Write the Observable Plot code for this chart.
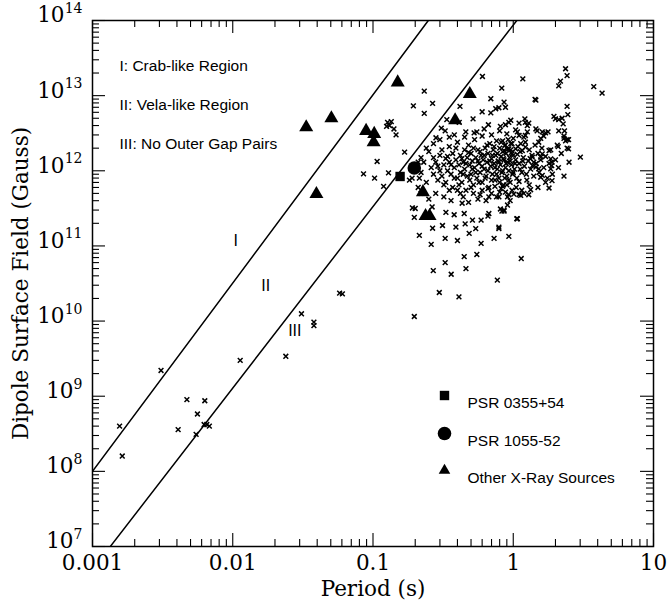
<!DOCTYPE html>
<html><head><meta charset="utf-8">
<script src="https://cdn.jsdelivr.net/npm/d3@7"></script>
<script src="https://cdn.jsdelivr.net/npm/@observablehq/plot@0.6"></script>
<style>html,body{margin:0;padding:0;background:#fff}</style>
</head><body><div id="chart"></div>
<script>
// ---------- data ----------
const xTickValues = [0.001, 0.01, 0.1, 1, 10];
const xTickLabels = ["0.001", "0.01", "0.1", "1", "10"];
const yTickExponents = [7, 8, 9, 10, 11, 12, 13, 14];

// boundary lines (P in s, B in G)
const boundaryI = [[0.001, 1e8], [0.248, 1e14]];
const boundaryII = [[0.00134, 1e7], [1.06, 1e14]];

const psr0355 = [[0.156, 8.4e11]];
const psr1055 = [[0.197, 1.09e12]];
const xraySources = [
  [0.0334, 3.8e12], [0.0505, 5.0e12], [0.0893, 3.4e12], [0.102, 3.1e12], [0.101, 2.4e12],
  [0.150, 1.5e13], [0.0395, 4.9e11], [0.49, 1.05e13], [0.385, 4.7e12], [0.227, 5.2e11],
  [0.237, 2.5e11], [0.253, 2.5e11]
];

const pulsarsSparse = [
  [0.00156, 4.0e8], [0.00163, 1.6e8], [0.00308, 2.2e9], [0.00408, 3.6e8], [0.00471, 9.0e8],
  [0.00560, 5.8e8], [0.00548, 3.1e8], [0.00625, 4.2e8], [0.00653, 4.2e8], [0.00681, 4.0e8],
  [0.00632, 8.7e8], [0.0113, 3.0e9], [0.0239, 3.4e9], [0.0309, 1.25e10], [0.0379, 9.7e9],
  [0.0379, 8.7e9], [0.0578, 2.35e10], [0.0605, 2.3e10],
  [0.107, 1.33e12], [0.0856, 9.1e11], [0.1026, 8.0e11], [0.129, 9.4e11], [0.119, 6.2e11],
  [0.168, 1.77e12], [0.127, 4.4e12], [0.135, 4.5e12], [0.125, 3.9e12], [0.131, 4.0e12],
  [0.141, 3.6e12], [0.146, 3.0e12], [0.232, 1.15e13], [0.194, 7.3e12], [0.266, 7.9e12],
  [0.232, 5.8e12], [0.182, 7.5e11], [0.214, 8.0e11]
];
const pulsarsUpper = [
  [0.603, 1.8e13], [1.17, 1.67e13], [0.828, 1.26e13], [0.692, 9.1e12], [0.86, 8.2e12],
  [0.60, 6.1e12], [0.692, 5.9e12], [0.75, 6.7e12], [0.79, 6.9e12], [0.88, 7.0e12],
  [0.336, 4.8e12], [0.417, 7.2e12], [0.517, 4.9e12], [0.412, 4.4e12], [0.307, 3.7e12],
  [0.327, 3.4e12], [0.281, 2.75e12], [0.459, 3.3e12], [0.526, 3.2e12], [0.665, 4.1e12],
  [2.36, 2.28e13], [2.42, 1.85e13], [2.17, 1.56e13], [2.11, 1.35e13], [3.75, 1.32e13],
  [4.30, 1.08e13], [1.43, 8.9e12], [1.45, 8.7e12], [2.42, 7.2e12], [2.45, 5.6e12],
  [1.95, 5.3e12], [2.0, 4.9e12], [2.11, 4.8e12], [2.23, 5.0e12], [2.27, 4.2e12],
  [0.96, 4.7e12], [0.93, 4.4e12], [0.88, 4.1e12], [0.81, 3.9e12], [1.10, 4.3e12],
  [1.22, 4.4e12], [1.26, 4.0e12], [1.29, 4.3e12], [1.21, 4.9e12], [2.11, 3.4e12],
  [2.32, 3.4e12], [2.30, 2.9e12], [1.45, 3.6e12], [1.48, 3.4e12], [1.04, 3.5e12],
  [1.07, 3.3e12], [1.26, 3.3e12], [1.22, 2.95e12], [1.19, 2.8e12], [1.10, 2.95e12],
  [1.61, 3.3e12], [1.70, 3.2e12], [1.77, 3.3e12], [1.65, 2.9e12], [1.57, 2.7e12],
  [1.52, 2.4e12], [2.30, 2.7e12], [2.42, 2.6e12], [2.48, 2.6e12], [2.36, 2.5e12],
  [2.06, 2.2e12], [2.09, 2.1e12], [2.42, 2.0e12], [2.48, 1.96e12], [1.80, 1.86e12],
  [1.61, 1.68e12], [1.57, 1.52e12], [3.01, 1.52e12], [1.85, 1.44e12], [1.89, 1.30e12],
  [1.88, 1.17e12], [1.85, 1.06e12], [1.89, 7.4e11], [1.80, 5.9e11], [1.33, 5.6e11],
  [1.29, 4.8e11], [1.13, 4.7e11], [1.01, 4.9e11], [0.91, 4.5e11], [0.93, 4.8e11],
  [0.84, 6.2e11], [0.86, 3.0e11], [0.83, 2.9e11], [1.07, 2.3e11], [0.79, 1.7e11],
  [0.84, 2.5e12], [0.88, 2.2e12], [0.96, 2.3e12], [0.93, 1.96e12], [0.86, 1.86e12],
  [0.98, 1.68e12], [1.04, 1.96e12], [1.13, 2.3e12], [1.16, 1.86e12], [1.22, 2.06e12],
  [1.37, 1.52e12], [1.40, 1.30e12], [1.45, 1.12e12], [1.37, 1.17e12], [1.52, 1.06e12],
  [1.61, 8.7e11], [1.57, 8.2e11]
];
const pulsarsLower = [
  [0.200, 3.15e11], [0.197, 2.4e11], [0.264, 3.3e11], [0.331, 2.8e11], [0.379, 2.6e11],
  [0.447, 2.7e11], [0.512, 2.2e11], [0.454, 1.97e11], [0.390, 1.78e11], [0.313, 1.87e11],
  [0.266, 1.72e11], [0.191, 3.2e11], [0.432, 3.7e11], [0.67, 4.5e11], [0.79, 4.5e11],
  [0.91, 3.5e11], [1.10, 4.8e11], [1.19, 5.0e11], [0.81, 3.1e11], [0.86, 2.9e11],
  [1.06, 2.3e11], [0.59, 2.2e11], [0.79, 1.78e11], [0.54, 1.7e11], [0.67, 2.7e11],
  [0.66, 2.5e11],
  [0.214, 1.38e11], [0.26, 1.05e11], [0.327, 1.26e11], [0.40, 1.18e11], [0.485, 1.47e11],
  [0.59, 1.08e11], [0.73, 1.26e11], [0.93, 1.34e11], [0.447, 7.2e10], [0.55, 7.7e10],
  [0.327, 6.0e10], [0.269, 4.7e10], [0.361, 4.2e10], [0.46, 5.0e10], [0.77, 3.5e10],
  [1.14, 6.8e10], [0.297, 2.4e10], [0.41, 2.1e10], [0.197, 1.15e10]
];
const pulsarsCore = [
  [0.26, 1.1e12], [0.27, 9e11], [0.28, 1.3e12], [0.29, 7.5e11], [0.30, 1.6e12], [0.30, 1.0e12],
  [0.31, 8.5e11], [0.32, 1.2e12], [0.33, 1.45e12], [0.33, 7e11], [0.34, 1.0e12], [0.35, 2.1e12],
  [0.35, 1.3e12], [0.36, 9e11], [0.37, 1.7e12], [0.37, 6e11], [0.38, 1.1e12], [0.39, 1.4e12],
  [0.40, 8e11], [0.40, 2.4e12], [0.41, 1.2e12], [0.42, 1.6e12], [0.42, 9.5e11], [0.43, 7e11],
  [0.44, 1.3e12], [0.45, 1.9e12], [0.45, 1.05e12], [0.46, 5.5e11], [0.47, 1.5e12], [0.47, 8.5e11],
  [0.48, 2.2e12], [0.49, 1.2e12], [0.50, 9e11], [0.50, 1.7e12], [0.51, 1.35e12], [0.52, 6.5e11],
  [0.53, 2.6e12], [0.53, 1.1e12], [0.54, 1.5e12], [0.55, 8e11], [0.56, 1.9e12], [0.57, 1.25e12],
  [0.58, 9.5e11], [0.59, 1.6e12], [0.60, 2.9e12], [0.60, 7e11], [0.61, 1.4e12], [0.62, 1.05e12],
  [0.63, 2.0e12], [0.64, 8.5e11], [0.65, 1.3e12], [0.66, 1.7e12], [0.67, 6e11], [0.68, 2.3e12],
  [0.69, 1.15e12], [0.70, 1.45e12], [0.71, 9e11], [0.72, 1.9e12], [0.73, 1.25e12], [0.74, 7.5e11],
  [0.75, 1.6e12], [0.76, 2.5e12], [0.77, 1.05e12], [0.78, 1.35e12], [0.79, 8e11], [0.80, 2.0e12],
  [0.81, 1.2e12], [0.82, 1.55e12], [0.83, 9.5e11], [0.84, 1.8e12], [0.85, 6.5e11], [0.86, 1.4e12],
  [0.87, 2.2e12], [0.88, 1.1e12], [0.89, 1.7e12], [0.90, 8.5e11], [0.91, 1.3e12], [0.92, 2.6e12],
  [0.93, 1.0e12], [0.94, 1.5e12], [0.95, 7e11], [0.96, 1.9e12], [0.97, 1.2e12], [0.98, 2.3e12],
  [0.99, 9e11], [1.0, 1.6e12], [1.02, 1.05e12], [1.04, 1.4e12], [1.06, 8e11], [1.08, 2.1e12],
  [1.10, 1.25e12], [1.12, 1.8e12], [1.15, 9.5e11], [1.18, 1.5e12], [1.20, 1.15e12], [1.22, 2.4e12],
  [1.25, 7.5e11], [1.28, 1.35e12], [1.30, 1.9e12], [1.33, 1.05e12], [1.36, 1.6e12], [1.40, 8.5e11],
  [1.43, 2.2e12], [1.46, 1.25e12], [1.50, 1.7e12], [1.53, 9.5e11], [1.57, 1.4e12], [1.60, 2.0e12],
  [1.65, 1.1e12], [1.70, 1.55e12], [1.75, 8e11], [1.80, 1.25e12], [1.85, 1.9e12], [1.90, 9e11],
  [2.0, 1.4e12], [2.1, 1.1e12], [2.2, 1.7e12], [2.3, 8.5e11], [2.5, 1.3e12],
  [0.28, 5e11], [0.32, 4.5e11], [0.36, 4e11], [0.40, 5.5e11], [0.44, 4.5e11], [0.48, 3.8e11],
  [0.52, 5e11], [0.56, 4.2e11], [0.60, 5.5e11], [0.64, 4e11], [0.70, 5e11], [0.76, 4.5e11],
  [0.82, 5.8e11], [0.88, 5.2e11], [0.95, 4e11], [1.05, 6e11], [1.15, 5.5e11], [1.30, 6.5e11],
  [1.50, 6e11], [1.70, 7e11],
  [0.22, 9.5e11], [0.23, 1.3e12], [0.24, 7e11], [0.25, 1.8e12], [0.21, 6e11], [0.22, 5e11],
  [0.25, 4.2e11], [0.22, 1.5e12], [0.20, 1.1e12], [0.19, 8e11], [0.21, 1.3e12], [0.24, 2.0e12],
  [0.27, 2.3e12], [0.30, 2.6e12], [0.38, 3.0e12], [0.45, 2.8e12], [0.55, 3.3e12], [0.62, 3.6e12],
  [0.70, 3.0e12], [0.80, 3.4e12], [0.90, 3.1e12], [1.0, 2.7e12], [0.35, 2.8e12],
  [0.27, 1.5e12], [0.29, 1.15e12], [0.31, 1.9e12], [0.32, 6.5e11], [0.34, 1.55e12], [0.36, 1.2e12],
  [0.38, 8e11], [0.39, 2.0e12], [0.41, 6.5e11], [0.43, 1.45e12], [0.44, 9e11], [0.46, 1.25e12],
  [0.48, 1.75e12], [0.49, 7.5e11], [0.51, 1.05e12], [0.52, 2.0e12], [0.54, 9.5e11], [0.56, 1.35e12],
  [0.57, 7e11], [0.58, 1.8e12], [0.60, 1.15e12], [0.62, 1.6e12], [0.63, 8e11], [0.65, 2.2e12],
  [0.66, 1.0e12], [0.68, 1.35e12], [0.70, 7.5e11], [0.71, 1.6e12], [0.73, 2.1e12], [0.74, 1.1e12],
  [0.76, 9e11], [0.77, 1.7e12], [0.79, 1.3e12], [0.80, 7e11], [0.82, 2.4e12], [0.84, 1.0e12],
  [0.85, 1.45e12], [0.87, 8e11], [0.89, 1.25e12], [0.91, 1.95e12], [0.93, 7.5e11], [0.95, 1.35e12],
  [0.97, 1.75e12], [1.0, 9.5e11], [1.03, 1.25e12], [1.07, 1.65e12], [1.12, 1.05e12], [1.17, 1.35e12],
  [1.24, 9e11], [1.32, 1.45e12], [0.35, 5.5e11], [0.42, 5e11], [0.50, 6e11], [0.58, 4.8e11],
  [0.66, 5.8e11], [0.74, 6.2e11], [0.80, 5.2e11], [0.90, 6.5e11], [0.98, 5.5e11], [1.10, 7.2e11]
];
const pulsars = [...pulsarsSparse, ...pulsarsUpper, ...pulsarsLower, ...pulsarsCore];

const regionLabels = [
  {label: "I", P: 0.0105, B: 1.17e11},
  {label: "II", P: 0.0172, B: 2.98e10},
  {label: "III", P: 0.0277, B: 7.5e9}
];
const regionNotes = ["I: Crab-like Region", "II: Vela-like Region", "III: No Outer Gap Pairs"];
const legendItems = ["PSR 0355+54", "PSR 1055-52", "Other X-Ray Sources"];

// ---------- layout ----------
const W = 669, H = 606, mL = 92, mR = 16, mT = 20, mB = 60;
const pxPerDecX = (W - mL - mR) / 4;
const pxPerDecY = (H - mT - mB) / 7;
const majorLen = 13, minorLen = 7;

const xMajor = xTickValues;
const xMinor = d3.range(-3, 1).flatMap(e => d3.range(2, 10).map(k => k * 10 ** e));
const yMajor = yTickExponents.map(e => 10 ** e);
const yMinor = d3.range(7, 14).flatMap(e => d3.range(2, 10).map(k => k * 10 ** e));
const xt = [...xMajor.map(v => ({v, len: majorLen})), ...xMinor.map(v => ({v, len: minorLen}))];
const yt = [...yMajor.map(v => ({v, len: majorLen})), ...yMinor.map(v => ({v, len: minorLen}))];

const sans = "Liberation Sans, Arial, Helvetica, sans-serif";
const serif = "DejaVu Serif, serif";
const tickStyle = {stroke: "#000", strokeWidth: 1.1};

const chart = Plot.plot({
  width: W, height: H,
  marginLeft: mL, marginRight: mR, marginTop: mT, marginBottom: mB,
  x: {type: "log", domain: [0.001, 10], axis: null},
  y: {type: "log", domain: [1e7, 1e14], axis: null},
  style: {fontFamily: serif, background: "#fff", color: "#000", overflow: "visible"},
  marks: [
    // ticks on all four sides, pointing inward
    Plot.ruleX(xt, {x: "v", y1: 1e7, y2: d => 1e7 * 10 ** (d.len / pxPerDecY), ...tickStyle}),
    Plot.ruleX(xt, {x: "v", y1: 1e14, y2: d => 1e14 / 10 ** (d.len / pxPerDecY), ...tickStyle}),
    Plot.ruleY(yt, {y: "v", x1: 0.001, x2: d => 0.001 * 10 ** (d.len / pxPerDecX), ...tickStyle}),
    Plot.ruleY(yt, {y: "v", x1: 10, x2: d => 10 / 10 ** (d.len / pxPerDecX), ...tickStyle}),
    Plot.frame({stroke: "#000", strokeWidth: 1.5}),
    // boundary lines
    Plot.line(boundaryI, {x: d => d[0], y: d => d[1], stroke: "#000", strokeWidth: 1.5, clip: true}),
    Plot.line(boundaryII, {x: d => d[0], y: d => d[1], stroke: "#000", strokeWidth: 1.5, clip: true}),
    // pulsars
    Plot.dot(pulsars, {x: d => d[0], y: d => d[1], symbol: "times", r: 2.3, stroke: "#000", strokeWidth: 1.5}),
    Plot.dot(xraySources, {x: d => d[0], y: d => d[1], symbol: "triangle", r: 5.2, fill: "#000", stroke: "none"}),
    Plot.dot(psr0355, {x: d => d[0], y: d => d[1], symbol: "square", r: 5.3, fill: "#000", stroke: "none"}),
    Plot.dot(psr1055, {x: d => d[0], y: d => d[1], symbol: "circle", r: 6.8, fill: "#000", stroke: "none"}),
    // region numerals
    Plot.text(regionLabels, {x: "P", y: "B", text: "label", fontSize: 16, fontFamily: sans}),
    // region notes
    Plot.text([regionNotes.join("\n")], {frameAnchor: "top-left", dx: 27, dy: 77, textAnchor: "start",
      lineAnchor: "middle", lineHeight: 2.5, fontSize: 15.5, fontFamily: sans}),
    // legend
    Plot.dot([legendItems[0]], {frameAnchor: "top-left", dx: 352, dy: 375, symbol: "square", r: 5.3, fill: "#000"}),
    Plot.dot([legendItems[1]], {frameAnchor: "top-left", dx: 352, dy: 413, symbol: "circle", r: 6.8, fill: "#000"}),
    Plot.dot([legendItems[2]], {frameAnchor: "top-left", dx: 352, dy: 450, symbol: "triangle", r: 4.3, fill: "#000"}),
    Plot.text([legendItems.join("\n")], {frameAnchor: "top-left", dx: 375, dy: 413, textAnchor: "start",
      lineAnchor: "middle", lineHeight: 2.42, fontSize: 15.5, fontFamily: sans}),
    // x tick labels
    Plot.text(xTickValues, {x: d => d, text: (d, i) => xTickLabels[i], frameAnchor: "bottom",
      textAnchor: "middle", dy: 23, fontSize: 21.5}),
    // y tick labels: 10 with superscript exponent
    Plot.text(yTickExponents.filter(e => e >= 10), {y: e => 10 ** e, text: () => "10", frameAnchor: "left",
      textAnchor: "end", dx: -28, dy: -5, fontSize: 21.5}),
    Plot.text(yTickExponents.filter(e => e < 10), {y: e => 10 ** e, text: () => "10", frameAnchor: "left",
      textAnchor: "end", dx: -19, dy: -5, fontSize: 21.5}),
    Plot.text(yTickExponents, {y: e => 10 ** e, text: e => String(e), frameAnchor: "left",
      textAnchor: "end", dx: -10, dy: -12, fontSize: 14}),
    // axis titles
    Plot.text(["Period (s)"], {frameAnchor: "bottom", textAnchor: "middle", dy: 49, fontSize: 21.5}),
    Plot.text(["Dipole Surface Field (Gauss)"], {frameAnchor: "left", textAnchor: "middle", dx: -71,
      rotate: -90, fontSize: 21.5})
  ]
});
document.getElementById("chart").appendChild(chart);
</script>
</body></html>
